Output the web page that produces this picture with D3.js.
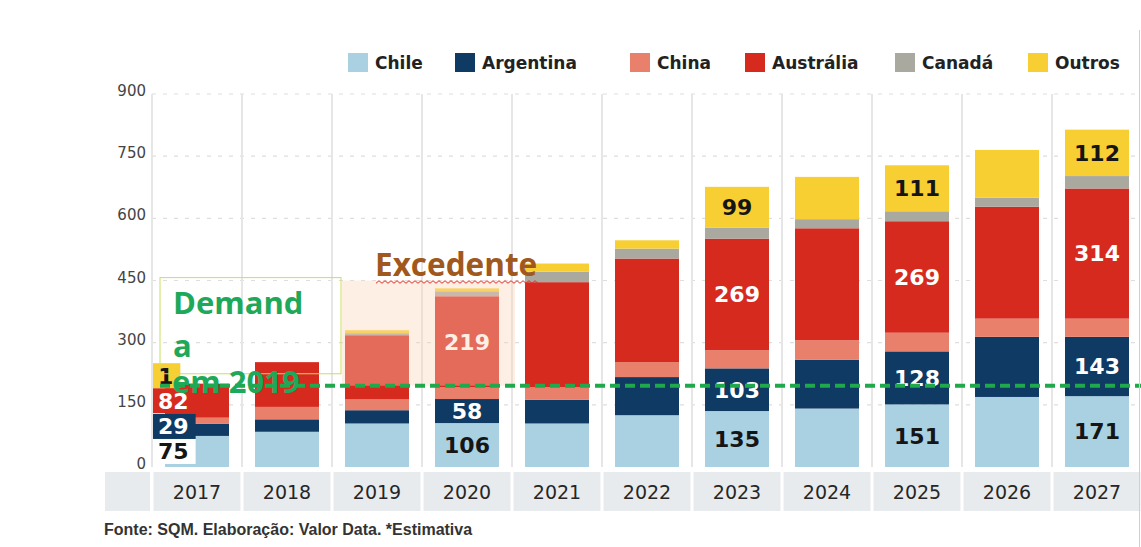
<!DOCTYPE html>
<html>
<head>
<meta charset="utf-8">
<script src="https://cdn.jsdelivr.net/npm/d3@7"></script>
<style>
  body { margin: 0; background: #fff; }
  svg { display: block; }
</style>
</head>
<body>
<svg id="chart" width="1141" height="547"></svg>
<script>
// Lithium production by country (thousand t LCE), 2017–2027*
const years = ["2017", "2018", "2019", "2020", "2021", "2022", "2023", "2024", "2025", "2026", "2027"];
const seriesNames = ["Chile", "Argentina", "China", "Austrália", "Canadá", "Outros"];
const chile     = [75, 85, 105, 106, 105, 125, 135, 141, 151, 169, 171];
const argentina = [29, 30, 32, 58, 57, 92, 103, 118, 128, 145, 143];
const china     = [15, 30, 26, 29, 31, 36, 44, 47, 45, 44, 44];
const australia = [82, 108, 155, 219, 253, 250, 269, 270, 269, 270, 314];
const canada    = [0, 0, 5, 12, 25, 24, 26, 22, 24, 22, 30];
const outros    = [1, 0, 7, 7, 20, 20, 99, 102, 111, 115, 112];
const yTicks = [0, 150, 300, 450, 600, 750, 900];

// segments that carry a value label
const labelledCells = [
  ["2017", "Chile"], ["2017", "Argentina"], ["2017", "Austrália"], ["2017", "Outros"],
  ["2020", "Chile"], ["2020", "Argentina"], ["2020", "Austrália"],
  ["2023", "Chile"], ["2023", "Argentina"], ["2023", "Austrália"], ["2023", "Outros"],
  ["2025", "Chile"], ["2025", "Argentina"], ["2025", "Austrália"], ["2025", "Outros"],
  ["2027", "Chile"], ["2027", "Argentina"], ["2027", "Austrália"], ["2027", "Outros"]
];

// demand in 2019 and the top of the surplus band
const demand2019 = 196;
const surplusTop = 450;
const surplusYears = ["2019", "2020"];

const seriesValues = [chile, argentina, china, australia, canada, outros];
const table = years.map((yr, i) => {
  const row = { year: yr };
  seriesNames.forEach((s, k) => row[s] = seriesValues[k][i]);
  return row;
});

const colors = {
  "Chile": "#a9d1e2",
  "Argentina": "#0f3a63",
  "China": "#e9806b",
  "Austrália": "#d62a1e",
  "Canadá": "#aaa9a0",
  "Outros": "#f8cf33"
};
const darkText = { "Chile": "#151515", "Outros": "#151515" };

const svg = d3.select("#chart");

const x = d3.scaleBand().domain(years).range([152, 1142])
  .paddingInner(26 / 90).paddingOuter(13 / 90);
const y = d3.scaleLinear().domain([0, 900]).range([467, 94]);
const step = x.step();
const edge = d => x(d) - (step - x.bandwidth()) / 2;

// horizontal dashed gridlines
svg.append("g").selectAll("line")
  .data(yTicks.filter(t => t > 0))
  .join("line")
  .attr("x1", 152).attr("x2", 1141)
  .attr("y1", d => y(d)).attr("y2", d => y(d))
  .attr("stroke", "#dedede").attr("stroke-width", 1.2)
  .attr("stroke-dasharray", "4,7");

// vertical column dividers
svg.append("g").selectAll("line")
  .data(years)
  .join("line")
  .attr("x1", d => edge(d)).attr("x2", d => edge(d))
  .attr("y1", y(900)).attr("y2", y(0))
  .attr("stroke", "#e6e6e6").attr("stroke-width", 2);

// y-axis labels
const yAxis = svg.append("g")
  .attr("transform", "translate(146,0)")
  .call(d3.axisLeft(y).tickValues(yTicks).tickSize(0).tickPadding(0));
yAxis.select(".domain").remove();
yAxis.selectAll("text")
  .attr("font-family", "DejaVu Sans, sans-serif")
  .attr("font-size", 15).attr("fill", "#444")
  .attr("dy", "0.1em");

// x-axis band with year labels
svg.append("rect")
  .attr("x", 105).attr("y", 472).attr("width", 45).attr("height", 39)
  .attr("fill", "#e8ebee");
svg.append("g").selectAll("rect")
  .data(years)
  .join("rect")
  .attr("x", d => edge(d) + 1.5).attr("y", 472)
  .attr("width", step - 3).attr("height", 39)
  .attr("fill", "#e8ebee");
const xAxis = svg.append("g")
  .attr("transform", "translate(0,492)")
  .call(d3.axisBottom(x).tickSize(0).tickPadding(0));
xAxis.select(".domain").remove();
xAxis.selectAll("text")
  .attr("font-family", "DejaVu Sans, sans-serif")
  .attr("font-size", 19).attr("fill", "#262626")
  .attr("dy", "0.35em");

// stacked bars
const stacked = d3.stack().keys(seriesNames)(table);
const layers = svg.append("g").selectAll("g")
  .data(stacked)
  .join("g")
  .attr("fill", d => colors[d.key]);
layers.selectAll("rect")
  .data(d => d.map(p => ({ key: d.key, year: p.data.year, y0: p[0], y1: p[1] })))
  .join("rect")
  .attr("x", d => x(d.year))
  .attr("width", x.bandwidth())
  .attr("y", d => y(d.y1))
  .attr("height", d => y(d.y0) - y(d.y1));

// value labels
const cellOf = (yr, key) => {
  const layer = stacked.find(l => l.key === key);
  const p = layer[years.indexOf(yr)];
  return { year: yr, key, y0: p[0], y1: p[1], value: p.data[key] };
};
const labelGroup = svg.append("g")
  .attr("font-family", "DejaVu Sans, sans-serif")
  .attr("font-weight", "bold").attr("font-size", 22);

// 2017 uses small coloured badges at the left edge of the column
const badgeYear = years[0];
const badges = labelledCells.filter(c => c[0] === badgeYear).map(c => cellOf(c[0], c[1]));
const badgeH = 25;
let floor = y(0);
badges.forEach(b => {
  let cy = (y(b.y0) + y(b.y1)) / 2;
  cy = Math.min(cy, floor - badgeH / 2);
  b.cy = cy;
  floor = cy - badgeH / 2;
});
badges.forEach(b => {
  const g = labelGroup.append("g");
  const bg = g.append("rect")
    .attr("fill", b.key === "Chile" ? "#ffffff" : colors[b.key]);
  const t = g.append("text")
    .attr("x", edge(badgeYear) + 6).attr("y", b.cy).attr("dy", "0.36em")
    .attr("fill", darkText[b.key] || "#ffffff")
    .text(b.value);
  const w = t.node().getComputedTextLength() + 12;
  bg.attr("x", edge(badgeYear) + 1).attr("y", b.cy - badgeH / 2)
    .attr("width", w).attr("height", badgeH);
});

labelGroup.selectAll("text.val")
  .data(labelledCells.filter(c => c[0] !== badgeYear).map(c => cellOf(c[0], c[1])))
  .join("text")
  .attr("class", "val")
  .attr("x", d => x(d.year) + x.bandwidth() / 2)
  .attr("y", d => (y(d.y0) + y(d.y1)) / 2)
  .attr("dy", "0.36em")
  .attr("text-anchor", "middle")
  .attr("fill", d => darkText[d.key] || "#ffffff")
  .text(d => d.value);

// surplus band over the columns above demand
const sx0 = x(surplusYears[0]) - 3;
const sx1 = x(surplusYears[surplusYears.length - 1]) + x.bandwidth() + 16;
svg.append("rect")
  .attr("x", sx0).attr("y", y(surplusTop))
  .attr("width", sx1 - sx0).attr("height", y(demand2019) - y(surplusTop))
  .attr("fill", "#fcd6bb").attr("fill-opacity", 0.38);

// demand line
svg.append("line")
  .attr("x1", 160).attr("x2", 1141)
  .attr("y1", y(demand2019)).attr("y2", y(demand2019))
  .attr("stroke", "#1fa84c").attr("stroke-width", 4)
  .attr("stroke-dasharray", "10,5");

// demand caption in its text box
svg.append("rect")
  .attr("x", 160).attr("y", y(457))
  .attr("width", 181).attr("height", y(225) - y(457))
  .attr("fill", "none").attr("stroke", "#c9df5c").attr("stroke-width", 1);
const cap = svg.append("g")
  .attr("font-family", "Open Sans, sans-serif")
  .attr("font-weight", "bold").attr("font-size", 31)
  .attr("fill", "#1ea85a");
cap.append("text").attr("x", 173).attr("y", 314).text("Demand");
cap.append("text").attr("x", 173).attr("y", 357).text("a");
cap.append("text").attr("x", 172).attr("y", 393).text("em 2019");

// surplus caption
const exc = svg.append("text")
  .attr("x", 375).attr("y", 276)
  .attr("font-family", "Open Sans, sans-serif")
  .attr("font-weight", "bold").attr("font-size", 31.5)
  .attr("fill", "#a0581c")
  .text("Excedente");
const excW = exc.node().getComputedTextLength();
const wave = d3.range(0, Math.floor(excW / 3) + 1)
  .map(i => [376 + i * 3, 282 + (i % 2 ? -1.3 : 1.3)]);
svg.append("path")
  .attr("d", d3.line()(wave))
  .attr("fill", "none").attr("stroke", "#e0302a").attr("stroke-width", 1);

// legend
const legendX = [348, 455, 630, 745, 895, 1028];
const legend = svg.append("g").selectAll("g")
  .data(seriesNames)
  .join("g")
  .attr("transform", (d, i) => `translate(${legendX[i]},53)`);
legend.append("rect")
  .attr("width", 20).attr("height", 19)
  .attr("fill", d => colors[d]);
legend.append("text")
  .attr("x", 27).attr("y", 9.5).attr("dy", "0.36em")
  .attr("font-family", "DejaVu Sans, sans-serif")
  .attr("font-weight", "bold").attr("font-size", 17)
  .attr("fill", "#222")
  .text(d => d);

// source note
svg.append("text")
  .attr("x", 104).attr("y", 535)
  .attr("font-family", "Liberation Sans, Arial, sans-serif")
  .attr("font-weight", "bold").attr("font-size", 16)
  .attr("fill", "#333")
  .text("Fonte: SQM. Elaboração: Valor Data. *Estimativa");

// right frame edge
svg.append("line")
  .attr("x1", 1139.5).attr("x2", 1139.5).attr("y1", 30).attr("y2", 547)
  .attr("stroke", "#d0d0d0").attr("stroke-width", 1);
</script>
</body>
</html>
